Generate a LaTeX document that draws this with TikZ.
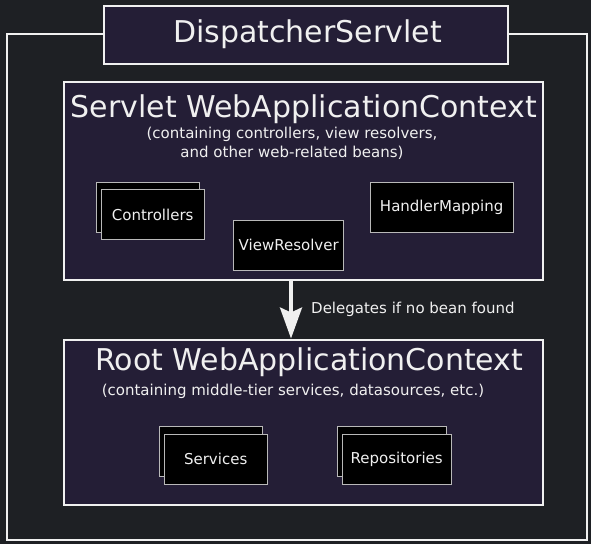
\documentclass[tikz,border=0pt]{standalone}
\usepackage{fontspec}
\setmainfont{DejaVu Sans}
\usetikzlibrary{arrows.meta}
\definecolor{bg}{RGB}{30,32,36}
\definecolor{ctx}{RGB}{36,30,54}
\definecolor{edge}{RGB}{240,240,240}
\definecolor{beanedge}{RGB}{185,185,185}
\tikzset{
  frame/.style={draw=edge, line width=2pt, inner sep=0pt, anchor=north west},
  ctxbox/.style={draw=edge, fill=ctx, line width=2pt, inner sep=0pt, anchor=north west},
  bean/.style={draw=beanedge, fill=black, line width=1.4pt, inner sep=0pt, anchor=north west,
    text=edge, font=\fontsize{15}{17}\selectfont},
  bigtext/.style={text=edge, font=\fontsize{30}{36}\selectfont, inner sep=0pt, anchor=base},
  smalltext/.style={text=edge, font=\fontsize{15}{19.5}\selectfont, inner sep=0pt, align=center},
  delegate/.style={draw=edge, line width=3.5pt, -{Stealth[width=22pt,length=31pt,inset=5pt]}},
}
\begin{document}
\begin{tikzpicture}[x=1pt,y=-1pt]
\fill[bg] (0,0) rectangle (591,544);
\useasboundingbox (0,0) rectangle (591,544);
% outer DispatcherServlet frame
\node[frame, minimum width=580pt, minimum height=506pt] (outer) at (6,33) {};
\node[ctxbox, minimum width=404pt, minimum height=58pt] (disp) at (103,5) {};
\node[bigtext] (disptitle) at (307.5,42.7) {DispatcherServlet};
% servlet context
\node[ctxbox, minimum width=479pt, minimum height=198pt] (servlet) at (63,80.5) {};
\node[bigtext] (servlettitle) at (304,117) {Servlet WebApplicationContext};
\node[smalltext, anchor=north] (servletsub) at (292,126.5) {(containing controllers, view resolvers,\\and other web-related beans)};
\node[bean, minimum width=103pt, minimum height=50pt] (ctrlback) at (96,182) {};
\node[bean, minimum width=103pt, minimum height=50pt] (ctrl) at (100.5,189) {Controllers};
\node[bean, minimum width=110pt, minimum height=50pt] (viewres) at (233,219.5) {ViewResolver};
\node[bean, minimum width=143pt, minimum height=50pt] (handler) at (369.5,182) {HandlerMapping};
% root context
\node[ctxbox, minimum width=479pt, minimum height=165pt] (root) at (63,338.5) {};
\node[bigtext] (roottitle) at (309.3,370.5) {Root WebApplicationContext};
\node[smalltext, anchor=base] (rootsub) at (293,395) {(containing middle-tier services, datasources, etc.)};
\node[bean, minimum width=103pt, minimum height=50pt] (servback) at (159,426) {};
\node[bean, minimum width=103pt, minimum height=50pt] (serv) at (163.5,433.5) {Services};
\node[bean, minimum width=109pt, minimum height=50pt] (repoback) at (337,425.5) {};
\node[bean, minimum width=109pt, minimum height=50pt] (repo) at (341.5,433.5) {Repositories};
% delegation arrow
\coordinate (ax) at (291,0);
\draw[delegate] (servlet.south -| ax) -- (root.north -| ax);
\node[smalltext, anchor=base west] (delegatelabel) at (311,313.7) {Delegates if no bean found};
\end{tikzpicture}
\end{document}
